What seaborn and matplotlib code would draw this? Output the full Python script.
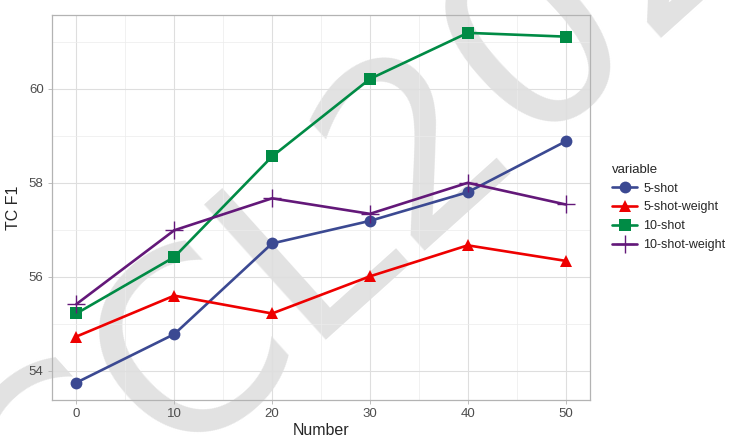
import numpy as np
import pandas as pd
import seaborn as sns
import matplotlib.pyplot as plt
from matplotlib.ticker import MultipleLocator

numbers = [0, 10, 20, 30, 40, 50]
shot5 = [53.75, 54.78, 56.71, 57.19, 57.80, 58.88]
shot5_weight = [54.73, 55.60, 55.22, 56.01, 56.67, 56.34]
shot10 = [55.22, 56.42, 58.56, 60.21, 61.19, 61.11]
shot10_weight = [55.42, 56.99, 57.67, 57.34, 58.00, 57.54]
names = ['5-shot', '5-shot-weight', '10-shot', '10-shot-weight']
colors = ['#3B4992', '#EE0000', '#008B45', '#631879']
marks = ['o', '^', 's', '+']

df = pd.DataFrame({'Number': numbers * 4,
                   'value': shot5 + shot5_weight + shot10 + shot10_weight,
                   'variable': np.repeat(names, len(numbers))})

sns.set_style('white')
plt.rcParams['font.family'] = ['Liberation Sans', 'DejaVu Sans']

fig = plt.figure(figsize=(7.29, 4.36), dpi=100)
ax = fig.add_axes([0.0713, 0.0826, 0.738, 0.883])
ax.set_zorder(2)
ax.set_facecolor('none')

# watermark behind the plot
fig.text(0.572, 0.65, 'CCL2023', fontsize=180, color='#e2e2e2',
         rotation=42, ha='center', va='center', zorder=1,
         family='DejaVu Sans')

for name, col, mk in zip(names, colors, marks):
    sub = df[df['variable'] == name]
    if mk == '+':
        kw = dict(markersize=13, markeredgewidth=1.0, markeredgecolor=col)
    else:
        kw = dict(markersize=8.5, markeredgewidth=0)
    sns.lineplot(data=sub, x='Number', y='value', color=col, marker=mk,
                 linewidth=1.9, label=name, ax=ax, **kw)

ax.set_xlim(-2.5, 52.5)
ax.set_ylim(53.38, 61.57)
ax.xaxis.set_major_locator(MultipleLocator(10))
ax.xaxis.set_minor_locator(MultipleLocator(5))
ax.yaxis.set_major_locator(MultipleLocator(2))
ax.yaxis.set_minor_locator(MultipleLocator(1))
ax.grid(which='major', color='#dedede', linewidth=0.8)
ax.grid(which='minor', color='#ececec', linewidth=0.5)
ax.set_axisbelow(True)
for s in ax.spines.values():
    s.set_color('#b3b3b3')
    s.set_linewidth(0.9)
ax.tick_params(which='major', length=3, width=0.6, color='#b3b3b3',
               labelsize=9.5, labelcolor='#4d4d4d', pad=3, left=True, bottom=True)
ax.tick_params(which='minor', length=0)
ax.set_xlabel('Number', fontsize=11.5, labelpad=2)
ax.set_ylabel('TC F1', fontsize=11.5, labelpad=6)

ax.legend(title='variable', frameon=False, loc='center left',
          bbox_to_anchor=(1.025, 0.5), fontsize=9, title_fontsize=9.5,
          handlelength=2.0, handletextpad=0.5, labelspacing=0.55,
          alignment='left', borderaxespad=0.3)

fig.savefig('out.png', dpi=100)
